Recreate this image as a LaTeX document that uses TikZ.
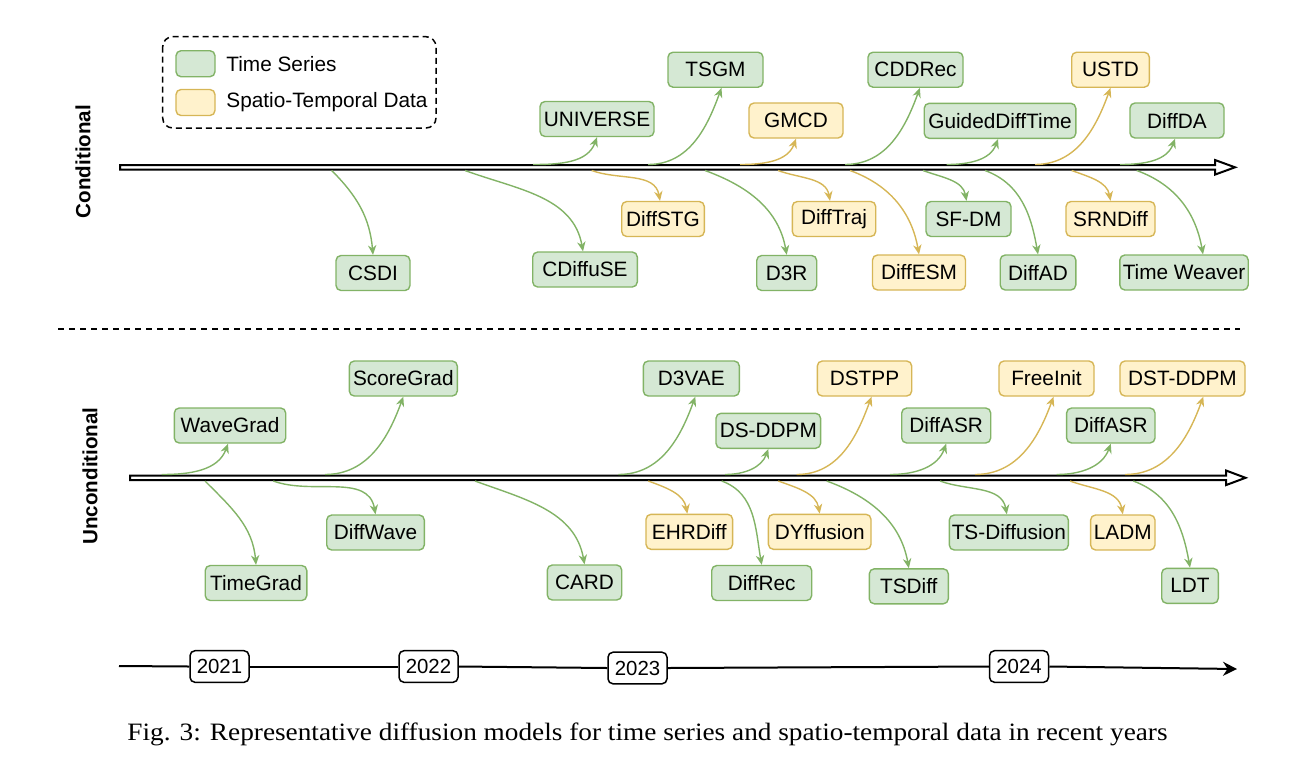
\documentclass[tikz,border=0pt]{standalone}
\usepackage{fontspec}
\setsansfont{Liberation Sans}
\newfontfamily\capfont{Liberation Serif}
\usetikzlibrary{arrows.meta}
\definecolor{tsfill}{HTML}{D5E8D4}
\definecolor{tsline}{HTML}{82B366}
\definecolor{stfill}{HTML}{FFF2CC}
\definecolor{stline}{HTML}{D6B656}
\tikzset{
  gbox/.style={draw=tsline, fill=tsfill, rounded corners=2.5pt, line width=0.7pt,
    minimum height=17.5pt, inner sep=0pt, font=\sffamily\fontsize{10.4}{12}\selectfont},
  ybox/.style={gbox, draw=stline, fill=stfill},
  garr/.style={draw=tsline, line width=0.7pt, -{Stealth[length=4.8pt,width=4.2pt]}},
  yarr/.style={garr, draw=stline},
  upc/.style={out=0, in=-110},
  dnc/.style={out=-20, in=100},
  yearbox/.style={draw=black, fill=white, rounded corners=2.5pt, line width=0.75pt,
    minimum width=29.5pt, minimum height=15.8pt, inner sep=0pt, font=\sffamily\fontsize{10.2}{12}\selectfont},
  mainarr/.style={draw=black, fill=white, line width=1pt, line join=miter},
  sidelab/.style={rotate=90, font=\sffamily\bfseries\fontsize{10.3}{12}\selectfont},
  legtext/.style={anchor=west, inner sep=0pt, font=\sffamily\fontsize{10.4}{12}\selectfont}
}
\begin{document}
\begin{tikzpicture}[x=0.5pt, y=-0.5pt]
\useasboundingbox (0,0) rectangle (1296,762);

% ---------- legend ----------
\draw[line width=0.75pt, dash pattern=on 3pt off 2pt, rounded corners=5pt] (162.7,36.7) rectangle (436,128);
\node[gbox, minimum width=19.5pt, minimum height=13pt] (legts) at (195.5,63.7) {};
\node[ybox, minimum width=19.5pt, minimum height=13pt] (legst) at (195.5,102.5) {};
\node[legtext] (legtstext) at (226,63.7) {Time Series};
\node[legtext] (legsttext) at (226,102.5) {Spatio-Temporal Data};

% ---------- side labels ----------
\node[sidelab] (cond) at (83,161.5) {Conditional};
\node[sidelab] (uncond) at (90,476) {Unconditional};

% ---------- main arrows ----------
\draw[mainarr] (120,165) -- (1215,165) -- (1215,160) -- (1235,167.3) -- (1215,174.6) -- (1215,169.6) -- (120,169.6) -- cycle;
\draw[mainarr] (130,475.5) -- (1226,475.5) -- (1226,470.5) -- (1245.5,477.8) -- (1226,485.1) -- (1226,480.1) -- (130,480.1) -- cycle;

% ---------- separator ----------
\draw[line width=0.75pt, dash pattern=on 3pt off 2.5pt] (58,329) -- (1240,329);

% ---------- conditional boxes ----------
\node[gbox, minimum width=37pt]   (csdi)      at (373,273)     {CSDI};
\node[gbox, minimum width=52.3pt] (cdiffuse)  at (585,269.5)   {CDiffuSE};
\node[gbox, minimum width=57pt]   (universe)  at (597,119)     {UNIVERSE};
\node[gbox, minimum width=47.5pt] (tsgm)      at (715.5,69.7)  {TSGM};
\node[ybox, minimum width=47pt]   (gmcd)      at (796,120.5)   {GMCD};
\node[gbox, minimum width=47.5pt] (cddrec)    at (915.5,69.7)  {CDDRec};
\node[ybox, minimum width=41.3pt] (diffstg)   at (663,219)     {DiffSTG};
\node[gbox, minimum width=30pt]   (d3r)       at (786.7,273)   {D3R};
\node[ybox, minimum width=41.7pt] (difftraj)  at (834,219)     {DiffTraj};
\node[ybox, minimum width=46.5pt] (diffesm)   at (919,272.5)   {DiffESM};
\node[gbox, minimum width=75.8pt] (guided)    at (1000,120.8)  {GuidedDiffTime};
\node[ybox, minimum width=38.8pt] (ustd)      at (1110.5,69.7) {USTD};
\node[gbox, minimum width=47pt]   (diffda)    at (1177,120.5)  {DiffDA};
\node[gbox, minimum width=42.5pt] (sfdm)      at (968.5,219)   {SF-DM};
\node[ybox, minimum width=44.5pt] (srndiff)   at (1110.5,219)  {SRNDiff};
\node[gbox, minimum width=37.8pt] (diffad)    at (1038,272.5)  {DiffAD};
\node[gbox, minimum width=64.2pt] (timeweaver) at (1184,272.5) {Time Weaver};

% start points on the conditional arrow
\coordinate (c1) at (331.7,170.5);
\coordinate (c2) at (465,170.5);
\coordinate (c3) at (533,164.5);
\coordinate (c4) at (648,164.5);
\coordinate (c5) at (740,164.5);
\coordinate (c6) at (845,164.5);
\coordinate (c7) at (591.7,170.5);
\coordinate (c8) at (705,170.5);
\coordinate (c9) at (778,170.5);
\coordinate (c10) at (850,170.5);
\coordinate (c11) at (946.7,164.5);
\coordinate (c12) at (1035,164.5);
\coordinate (c13) at (1120,164.5);
\coordinate (c14) at (923,170.5);
\coordinate (c15) at (985,170.5);
\coordinate (c16) at (1071.7,170.5);
\coordinate (c17) at (1136.7,170.5);

\draw[garr] (c1) to[out=-45, in=95] (csdi.north);
\draw[garr] (c2) to[dnc] ([xshift=-1pt]cdiffuse.north);
\draw[garr] (c3) to[upc] (universe.south);
\draw[garr] (c4) to[upc] ([xshift=3pt]tsgm.south);
\draw[yarr] (c5) to[upc] (gmcd.south);
\draw[garr] (c6) to[upc] ([xshift=2.2pt]cddrec.south);
\draw[yarr] (c7) to[dnc] ([xshift=-1.5pt]diffstg.north);
\draw[garr] (c8) to[dnc] (d3r.north);
\draw[yarr] (c9) to[dnc] ([xshift=-2pt]difftraj.north);
\draw[yarr] (c10) to[dnc] (diffesm.north);
\draw[garr] (c11) to[upc] ([xshift=-1pt]guided.south);
\draw[yarr] (c12) to[upc] (ustd.south);
\draw[garr] (c13) to[upc] ([xshift=-1pt]diffda.south);
\draw[garr] (c14) to[dnc] ([xshift=-1pt]sfdm.north);
\draw[garr] (c15) to[dnc] (diffad.north);
\draw[yarr] (c16) to[dnc] (srndiff.north);
\draw[garr] (c17) to[dnc] ([xshift=9.5pt]timeweaver.north);

% ---------- unconditional boxes ----------
\node[gbox, minimum width=55.7pt] (wavegrad)   at (230,425.5)   {WaveGrad};
\node[gbox, minimum width=54pt]   (scoregrad)  at (403.3,378.5) {ScoreGrad};
\node[gbox, minimum width=48.8pt] (diffwave)   at (375.5,532.5) {DiffWave};
\node[gbox, minimum width=50.8pt] (timegrad)   at (256,583)     {TimeGrad};
\node[gbox, minimum width=48pt]   (d3vae)      at (691.3,378.5) {D3VAE};
\node[gbox, minimum width=52.3pt] (dsddpm)     at (768.3,430.8) {DS-DDPM};
\node[ybox, minimum width=47.2pt] (dstpp)      at (864.5,378.5) {DSTPP};
\node[gbox, minimum width=37.2pt] (card)       at (584.5,582.5) {CARD};
\node[ybox, minimum width=43.3pt] (ehrdiff)    at (689.3,531.8) {EHRDiff};
\node[gbox, minimum width=50pt]   (diffrec)    at (761.7,583)   {DiffRec};
\node[ybox, minimum width=51.3pt] (dyffusion)  at (819.7,531.8) {DYffusion};
\node[gbox, minimum width=39.5pt] (tsdiff)     at (908.8,586.3) {TSDiff};
\node[gbox, minimum width=44.5pt] (diffasra)   at (946.2,425.5) {DiffASR};
\node[ybox, minimum width=47.5pt] (freeinit)   at (1046.5,378.5) {FreeInit};
\node[gbox, minimum width=44.2pt] (diffasrb)   at (1110.8,425.5) {DiffASR};
\node[ybox, minimum width=62.5pt] (dstddpm)    at (1182.5,378.5) {DST-DDPM};
\node[gbox, minimum width=59.5pt] (tsdiffusion) at (1008.8,532.5) {TS-Diffusion};
\node[ybox, minimum width=32.2pt] (ladm)       at (1122.8,532.5) {LADM};
\node[gbox, minimum width=28.3pt] (ldt)        at (1190,585.8)  {LDT};

% start points on the unconditional arrow
\coordinate (u1) at (161.7,474.5);
\coordinate (u2) at (325,474.5);
\coordinate (u3) at (205,481);
\coordinate (u4) at (273.3,481);
\coordinate (u5) at (475,481);
\coordinate (u6) at (618.3,474.5);
\coordinate (u7) at (725,474.5);
\coordinate (u8) at (796.7,474.5);
\coordinate (u9) at (890,474.5);
\coordinate (u10) at (648.3,481);
\coordinate (u11) at (721.7,481);
\coordinate (u12) at (778.3,481);
\coordinate (u13) at (826.7,481);
\coordinate (u14) at (975,474.5);
\coordinate (u15) at (1056.7,474.5);
\coordinate (u16) at (1125,474.5);
\coordinate (u17) at (940,481);
\coordinate (u18) at (1070,481);
\coordinate (u19) at (1133.3,481);

\draw[garr] (u1) to[upc] ([xshift=-1pt]wavegrad.south);
\draw[garr] (u2) to[upc] (scoregrad.south);
\draw[garr] (u3) to[out=-45, in=95] (timegrad.north);
\draw[garr] (u4) to[dnc] (diffwave.north);
\draw[garr] (u5) to[dnc] (card.north);
\draw[garr] (u6) to[upc] ([xshift=2pt]d3vae.south);
\draw[garr] (u7) to[upc] (dsddpm.south);
\draw[yarr] (u8) to[upc] ([xshift=3.5pt]dstpp.south);
\draw[garr] (u9) to[upc] (diffasra.south);
\draw[yarr] (u10) to[dnc] ([xshift=-1pt]ehrdiff.north);
\draw[garr] (u11) to[dnc] (diffrec.north);
\draw[yarr] (u12) to[dnc] (dyffusion.north);
\draw[garr] (u13) to[dnc] (tsdiff.north);
\draw[yarr] (u14) to[upc] ([xshift=3.5pt]freeinit.south);
\draw[garr] (u15) to[upc] (diffasrb.south);
\draw[yarr] (u16) to[upc] ([xshift=10.4pt]dstddpm.south);
\draw[garr] (u17) to[dnc] ([xshift=-1pt]tsdiffusion.north);
\draw[yarr] (u18) to[dnc] (ladm.north);
\draw[garr] (u19) to[dnc] (ldt.north);

% ---------- year axis ----------
\node[yearbox] (y2021) at (219.5,666.5) {2021};
\node[yearbox] (y2022) at (428.5,666.5) {2022};
\node[yearbox] (y2023) at (637.5,668)   {2023};
\node[yearbox] (y2024) at (1019,666.5)  {2024};
\coordinate (ystart) at (119,666);
\coordinate (yend) at (1237,669);
\draw[line width=1pt] (ystart) -- (y2021.west);
\draw[line width=1pt] (y2021.east) -- (y2022.west);
\draw[line width=1pt] (y2022.east) -- (y2023.west);
\draw[line width=1pt] (y2023.east) -- (y2024.west);
\draw[line width=1pt, -{Stealth[length=7pt,width=7pt]}] (y2024.east) -- (yend);

% ---------- caption ----------
\node[anchor=base west, inner sep=0pt] (caption) at (127,740.7)
  {\resizebox{520pt}{8.8pt}{\capfont Fig. 3: Representative diffusion models for time series and spatio-temporal data in recent years}};
\end{tikzpicture}
\end{document}
